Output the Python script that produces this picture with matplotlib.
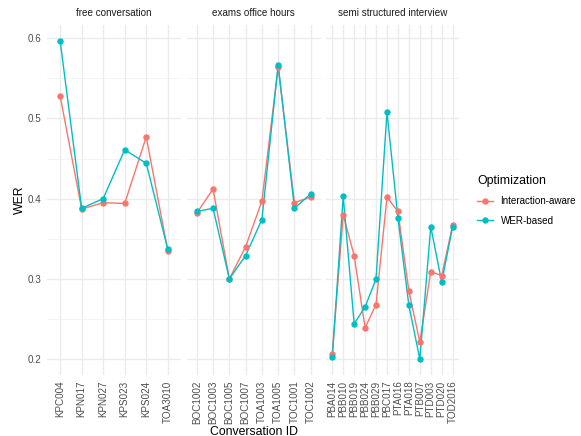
import matplotlib
matplotlib.use("Agg")
import matplotlib.pyplot as plt
from matplotlib.lines import Line2D
from matplotlib.ticker import MultipleLocator

plt.rcParams['font.family'] = ['Liberation Sans', 'DejaVu Sans']

facets = ["free conversation", "exams office hours", "semi structured interview"]

free_ids = ["KPC004", "KPN017", "KPN027", "KPS023", "KPS024", "TOA3010"]
free_interaction = [0.528, 0.387, 0.395, 0.394, 0.477, 0.335]
free_wer = [0.597, 0.388, 0.400, 0.461, 0.444, 0.337]

exam_ids = ["BOC1002", "BOC1003", "BOC1005", "BOC1007", "TOA1003", "TOA1005", "TOC1001", "TOC1002"]
exam_interaction = [0.382, 0.412, 0.300, 0.340, 0.397, 0.564, 0.395, 0.402]
exam_wer = [0.384, 0.388, 0.300, 0.329, 0.374, 0.567, 0.388, 0.406]

semi_ids = ["PBA014", "PBB010", "PBB019", "PBB024", "PBB029", "PBC017", "PTA016",
            "PTA018", "PTB007", "PTD003", "PTD020", "TOD2016"]
semi_interaction = [0.206, 0.380, 0.329, 0.239, 0.268, 0.402, 0.384, 0.285, 0.221, 0.309, 0.304, 0.367]
semi_wer = [0.202, 0.403, 0.244, 0.265, 0.300, 0.508, 0.376, 0.267, 0.200, 0.365, 0.296, 0.365]

series_names = ["Interaction-aware", "WER-based"]
colors = ["#F8766D", "#00BFC4"]

W, H = 581, 436
fig = plt.figure(figsize=(W / 100, H / 100), dpi=100)
fig.patch.set_facecolor("white")

panel_lefts = [47.2, 187.0, 325.7]
panel_w = 133.5
top_px, bot_px = 24.7, 375.0

all_vals = free_interaction + free_wer + exam_interaction + exam_wer + semi_interaction + semi_wer
vmin, vmax = min(all_vals), max(all_vals)
pad = (vmax - vmin) * 0.05

data = [
    (free_ids, free_interaction, free_wer),
    (exam_ids, exam_interaction, exam_wer),
    (semi_ids, semi_interaction, semi_wer),
]

tick_color = "#4D4D4D"
grid_major = "#EBEBEB"

for i, (ids, ia, wb) in enumerate(data):
    ax = fig.add_axes([panel_lefts[i] / W, 1 - bot_px / H, panel_w / W, (bot_px - top_px) / H])
    ax.set_facecolor("white")
    x = list(range(len(ids)))
    for vals, c in zip([ia, wb], colors):
        ax.plot(x, vals, color=c, lw=1.0, zorder=3)
    for vals, c in zip([ia, wb], colors):
        ax.plot(x, vals, 'o', color=c, ms=4.6, mew=0, zorder=4)
    ax.set_xlim(-0.6, len(ids) - 1 + 0.6)
    ax.set_ylim(vmin - pad, vmax + pad)
    ax.set_xticks(x)
    ax.set_xticklabels(ids, rotation=90, fontsize=7.1, color=tick_color)
    ax.yaxis.set_major_locator(MultipleLocator(0.1))
    ax.yaxis.set_minor_locator(MultipleLocator(0.05))
    ax.grid(which="major", color=grid_major, lw=1.0, zorder=0)
    ax.grid(which="minor", axis="y", color="#F2F2F2", lw=0.6, zorder=0)
    ax.tick_params(axis="both", which="both", length=0, pad=4)
    ax.tick_params(axis="x", pad=4)
    for s in ax.spines.values():
        s.set_visible(False)
    if i == 0:
        ax.set_yticks([0.2, 0.3, 0.4, 0.5, 0.6])
        ax.set_yticklabels(["0.2", "0.3", "0.4", "0.5", "0.6"], fontsize=7.1, color=tick_color)
    else:
        ax.tick_params(axis="y", labelleft=False)
    ax.set_title(facets[i], fontsize=7.1, color="#1A1A1A", pad=6)

fig.text(254 / W, 1 - 434.5 / H, "Conversation ID", ha="center", va="baseline", fontsize=8.85, color="black")
fig.text(20 / W, 1 - 200 / H, "WER", ha="center", va="center", rotation=90, fontsize=8.85, color="black")

handles = [Line2D([0], [0], color=c, lw=1.0, marker='o', ms=4.6, mew=0) for c in colors]
leg = fig.legend(handles, series_names, loc="upper left", bbox_to_anchor=(468 / W, 1 - 166 / H),
                 frameon=False, title="Optimization", fontsize=7.1, title_fontsize=8.85,
                 handlelength=1.6, handletextpad=0.8, labelspacing=0.95, alignment="left")

fig.savefig("out.png", dpi=100, facecolor="white")
